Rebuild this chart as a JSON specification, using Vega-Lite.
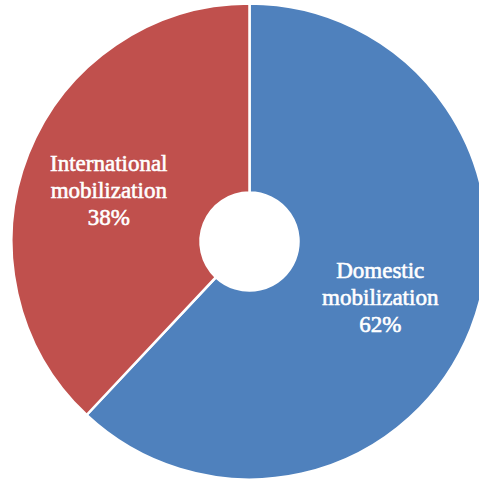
{
  "$schema": "https://vega.github.io/schema/vega-lite/v6.json",
  "width": 459,
  "height": 483,
  "autosize": {"type": "none"},
  "padding": {"left": 20, "top": 0, "right": 0, "bottom": 0},
  "background": "white",
  "config": {"view": {"stroke": null}},
  "data": {
    "values": [
      {"category": "Domestic mobilization", "value": 62, "label": "Domestic\nmobilization\n62%"},
      {"category": "International mobilization", "value": 38, "label": "International\nmobilization\n38%"}
    ]
  },
  "encoding": {
    "theta": {"field": "value", "type": "quantitative", "stack": true}
  },
  "layer": [
    {
      "mark": {"type": "arc", "outerRadius": 238, "innerRadius": 49, "stroke": "white", "strokeWidth": 2.5},
      "encoding": {
        "color": {
          "field": "category",
          "type": "nominal",
          "scale": {"domain": ["Domestic mobilization", "International mobilization"], "range": ["#4F81BD", "#C0504D"]},
          "legend": null
        }
      }
    },
    {
      "mark": {"type": "text", "radius": 146, "dx": -5, "dy": -24, "fill": "white", "stroke": "white", "strokeWidth": 0.6, "font": "Liberation Serif", "fontSize": 23, "lineHeight": 27, "lineBreak": "\n", "align": "center", "baseline": "middle"},
      "encoding": {
        "detail": {"field": "category", "type": "nominal"},
        "text": {"field": "label", "type": "nominal"}
      }
    }
  ]
}
